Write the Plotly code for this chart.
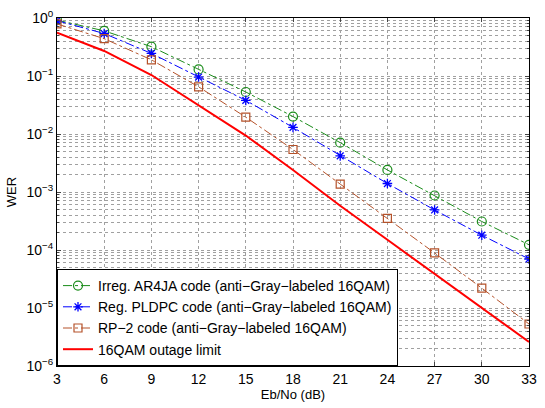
import plotly.graph_objects as go

ebno = [3, 6, 9, 12, 15, 18, 21, 24, 27, 30, 33]
ar4ja = [0.92, 0.60, 0.32, 0.13, 0.053, 0.020, 0.0071, 0.0024, 8.7e-4, 3.1e-4, 1.23e-4]
pldpc = [0.90, 0.54, 0.245, 0.096, 0.038, 0.013, 0.0042, 0.0014, 4.9e-4, 1.8e-4, 7.0e-5]
rp2 = [0.79, 0.44, 0.19, 0.065, 0.0195, 0.0054, 0.00137, 3.5e-4, 8.9e-5, 2.2e-5, 5.3e-6]
outage = [0.56, 0.27, 0.104, 0.031, 0.0094, 0.0024, 5.8e-4, 1.5e-4, 3.9e-5, 1.0e-5, 2.6e-6]

names = ["Irreg. AR4JA code (anti\u2212Gray\u2212labeled 16QAM)",
         "Reg. PLDPC code (anti\u2212Gray\u2212labeled 16QAM)",
         "RP\u22122 code (anti\u2212Gray\u2212labeled 16QAM)",
         "16QAM outage limit"]
xticks = [3, 6, 9, 12, 15, 18, 21, 24, 27, 30, 33]
yticks = [1e-6, 1e-5, 1e-4, 1e-3, 1e-2, 1e-1, 1]
yticktext = ["10<sup>\u22126</sup>", "10<sup>\u22125</sup>", "10<sup>\u22124</sup>",
             "10<sup>\u22123</sup>", "10<sup>\u22122</sup>", "10<sup>\u22121</sup>", "10<sup>0</sup>"]

green = "#1a8c1a"
blue = "#0000ff"
brown = "#b5522a"
red = "#ff0000"

fig = go.Figure()
fig.add_trace(go.Scatter(x=ebno, y=ar4ja, name=names[0], mode="lines+markers",
                         line=dict(color=green, width=1, dash="dashdot"),
                         marker=dict(symbol="circle-open", size=9, color=green, line=dict(width=1.2))))
fig.add_trace(go.Scatter(x=ebno, y=pldpc, name=names[1], mode="lines+markers",
                         line=dict(color=blue, width=1, dash="dashdot"),
                         marker=dict(symbol="asterisk-open", size=8, color=blue, line=dict(width=1.3, color=blue))))
fig.add_trace(go.Scatter(x=ebno, y=rp2, name=names[2], mode="lines+markers",
                         line=dict(color=brown, width=1, dash="dashdot"),
                         marker=dict(symbol="square-open", size=8, color=brown, line=dict(width=1.2))))
fig.add_trace(go.Scatter(x=ebno, y=outage, name=names[3], mode="lines",
                         line=dict(color=red, width=2)))

font = dict(family="Liberation Sans, Arial, sans-serif", size=14, color="black")
fig.update_layout(
    width=545, height=408,
    margin=dict(l=57, r=8, t=13, b=41),
    paper_bgcolor="white", plot_bgcolor="white",
    font=font,
    showlegend=True,
    legend=dict(x=0, y=0, xanchor="left", yanchor="bottom",
                bordercolor="black", borderwidth=1, bgcolor="white",
                font=dict(size=14), tracegroupgap=0, itemwidth=30),
)
fig.update_xaxes(range=[3, 33], tickvals=xticks, ticks="inside", ticklen=4,
                 mirror="allticks", showline=True, linecolor="black", linewidth=1,
                 showgrid=True, gridcolor="#a0a0a0", griddash="dot", gridwidth=1,
                 zeroline=False, tickfont=dict(size=14),
                 title=dict(text="Eb/No (dB)", standoff=4, font=dict(size=13)))
fig.update_yaxes(type="log", range=[-6, 0], tickvals=yticks, ticktext=yticktext,
                 ticks="inside", ticklen=4, mirror="allticks", showline=True,
                 linecolor="black", linewidth=1, tickfont=dict(size=14),
                 showgrid=True, gridcolor="#a0a0a0", griddash="dot", gridwidth=1,
                 minor=dict(ticks="inside", ticklen=2, showgrid=True, gridcolor="#a0a0a0",
                            griddash="dot", gridwidth=1, dtick="D1"),
                 title=dict(text="WER", standoff=6, font=dict(size=13)))

fig.write_html("out.html")
